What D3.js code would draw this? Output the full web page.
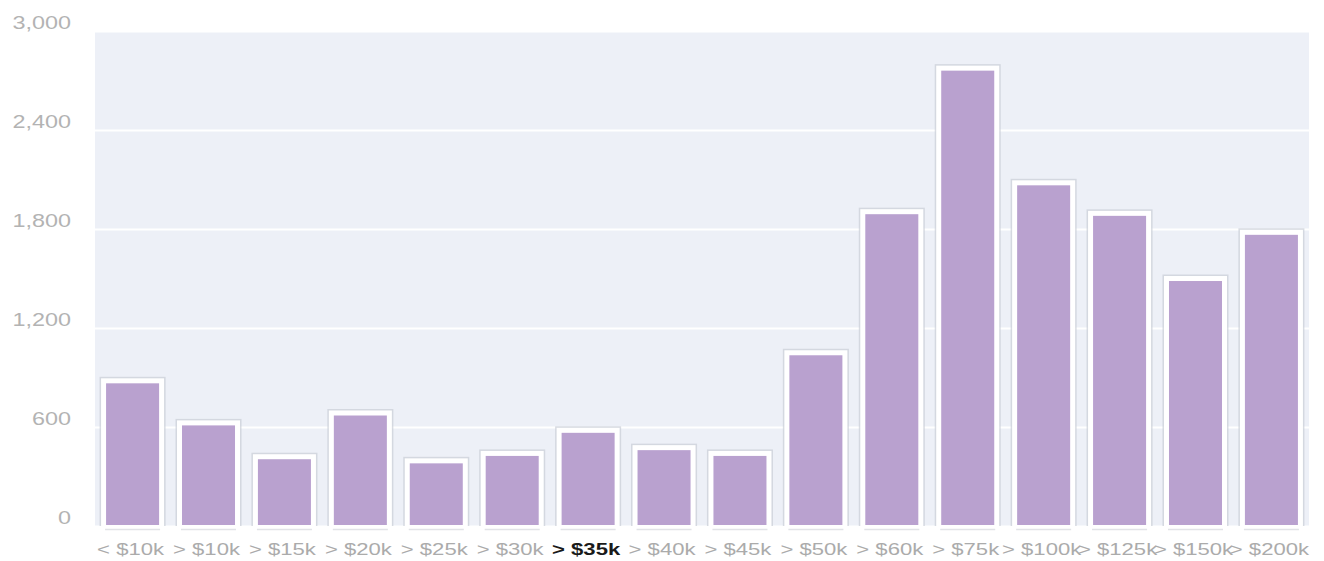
<!DOCTYPE html>
<html>
<head>
<meta charset="utf-8">
<script src="https://cdn.jsdelivr.net/npm/d3@7"></script>
<style>
  body { margin: 0; background: #fff; }
  svg { font-family: "Liberation Sans", Arial, sans-serif; }
</style>
</head>
<body>
<svg id="chart" width="1324" height="561"></svg>
<script>
// data
var categories = ["< $10k", "> $10k", "> $15k", "> $20k", "> $25k", "> $30k", "> $35k", "> $40k",
                  "> $45k", "> $50k", "> $60k", "> $75k", "> $100k", "> $125k", "> $150k", "> $200k"];
var counts = [895, 640, 435, 700, 410, 455, 595, 490, 455, 1065, 1920, 2790, 2095, 1910, 1515, 1795];
var yTicks = [0, 600, 1200, 1800, 2400, 3000];
var highlighted = "> $35k";

var svg = d3.select("#chart");
// note: not "top" - that one is window.top
var plotLeft = 95, plotRight = 1309, plotTop = 31, plotBottom = 526;

var x = d3.scaleBand()
    .domain(categories)
    .range([plotLeft, plotRight])
    .paddingInner(0.17)
    .paddingOuter(0.08);

var y = d3.scaleLinear()
    .domain([0, 3000])
    .range([plotBottom, plotTop]);

// plot background
svg.append("rect")
    .attr("x", plotLeft).attr("y", plotTop)
    .attr("width", plotRight - plotLeft).attr("height", plotBottom - plotTop)
    .attr("fill", "#edf0f7");

// gridlines
var grid = svg.append("g")
    .attr("transform", "translate(" + plotLeft + ",0)")
    .call(d3.axisLeft(y).tickValues(yTicks).tickSize(-(plotRight - plotLeft)).tickFormat(""));
grid.select(".domain").remove();
grid.selectAll("line").attr("stroke", "#fff").attr("stroke-width", 2);

// bars
var bars = svg.append("g").selectAll("g")
    .data(categories)
    .enter().append("g");

var bw = x.bandwidth();

bars.append("rect")  // soft grey shadow round the bar
    .attr("x", function(d) { return x(d) - 1.5; })
    .attr("y", function(d, i) { return y(counts[i]) - 1.5; })
    .attr("width", bw + 3)
    .attr("height", function(d, i) { return y(0) - y(counts[i]) + 1.5; })
    .attr("fill", "#c9cdd5")
    .attr("opacity", 0.7);

bars.append("rect")  // white frame
    .attr("x", function(d) { return x(d); })
    .attr("y", function(d, i) { return y(counts[i]); })
    .attr("width", bw)
    .attr("height", function(d, i) { return y(0) - y(counts[i]); })
    .attr("fill", "#fff");

bars.append("rect")  // purple fill
    .attr("x", function(d) { return x(d) + 5; })
    .attr("y", function(d, i) { return y(counts[i]) + 5; })
    .attr("width", bw - 10)
    .attr("height", function(d, i) { return y(0) - y(counts[i]) - 6; })
    .attr("fill", "#b9a1cf");

bars.append("line")  // faint base shadow
    .attr("x1", function(d) { return x(d) + 4; })
    .attr("x2", function(d) { return x(d) + bw - 4; })
    .attr("y1", plotBottom + 3.5).attr("y2", plotBottom + 3.5)
    .attr("stroke", "#e1e3e7")
    .attr("stroke-width", 1.5);

// y axis
var yAxis = svg.append("g")
    .attr("transform", "translate(" + plotLeft + ",0)")
    .call(d3.axisLeft(y).tickValues(yTicks).tickSize(0).tickFormat(d3.format(",")));
yAxis.select(".domain").remove();
yAxis.selectAll("text")
    .attr("x", 0).attr("dy", "0.35em")
    .attr("text-anchor", "end")
    .attr("transform", "translate(-24,-9) scale(1.3,1)")
    .style("font-size", "18px")
    .attr("fill", "#b3b3b3");

// x axis
var xAxis = svg.append("g")
    .attr("transform", "translate(0," + plotBottom + ")")
    .call(d3.axisBottom(x).tickSize(0));
xAxis.select(".domain").remove();
xAxis.selectAll("text")
    .attr("y", 0).attr("dy", 0)
    .attr("text-anchor", "middle")
    .attr("transform", "translate(-2,29) scale(1.3,1)")
    .style("font-size", "17px")
    .style("font-weight", function(d) { return d == highlighted ? "bold" : "normal"; })
    .attr("fill", function(d) { return d == highlighted ? "#1a1a1a" : "#ababab"; });
</script>
</body>
</html>
